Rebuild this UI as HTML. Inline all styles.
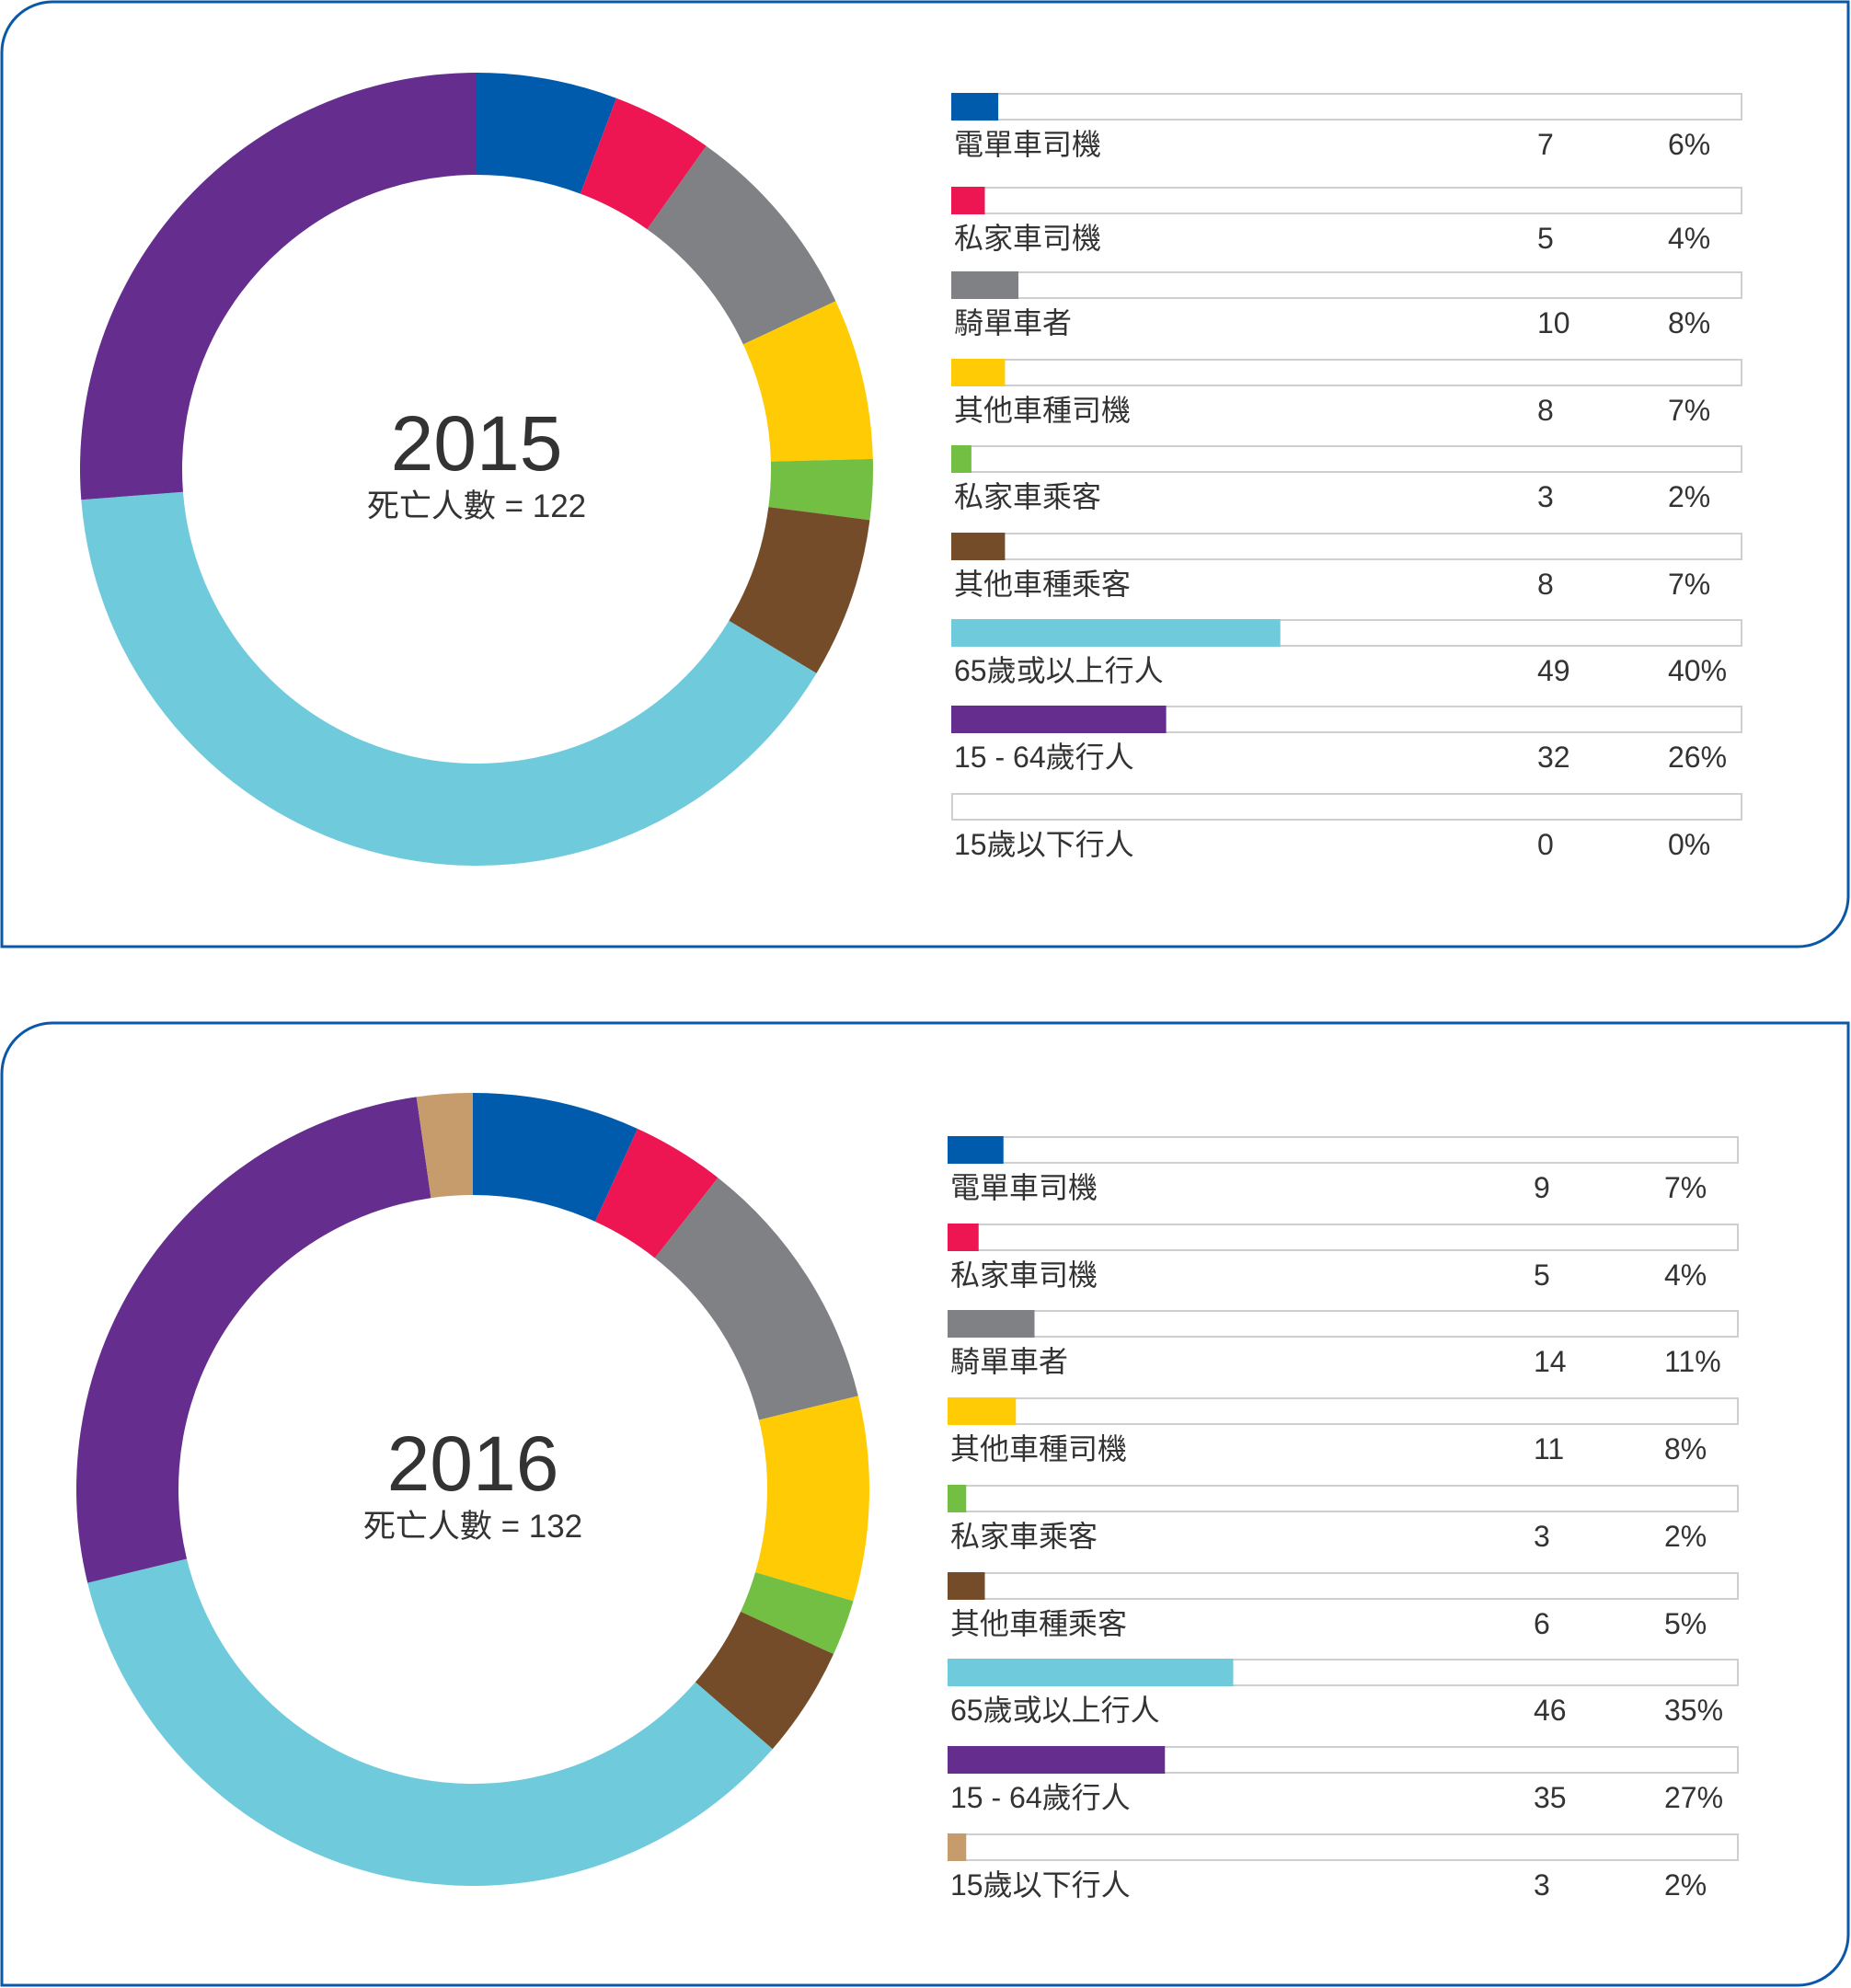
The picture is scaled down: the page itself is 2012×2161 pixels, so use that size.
<!DOCTYPE html>
<html><head><meta charset="utf-8">
<style>
html,body{margin:0;padding:0;background:#fff;}
svg{display:block;}
text{font-family:"Liberation Sans","Noto Sans CJK TC",sans-serif;fill:#333;}
</style></head>
<body>
<svg id="chart" width="2012" height="2161" viewBox="0 0 2012 2161" xmlns="http://www.w3.org/2000/svg">
  <path d="M57,2 H2009 V975 A55,55 0 0 1 1954,1029 H2 V57 A55,55 0 0 1 57,2 Z" fill="none" stroke="#0a58a8" stroke-width="3"/>
  <path d="M57,1112 H2009 V2104 A55,55 0 0 1 1954,2158 H2 V1167 A55,55 0 0 1 57,1112 Z" fill="none" stroke="#0a58a8" stroke-width="3"/>
  <g id="g2015"></g>
  <g id="g2016"></g>
</svg>
<script>
const categories = ["電單車司機","私家車司機","騎單車者","其他車種司機","私家車乘客","其他車種乘客","65歲或以上行人","15 - 64歲行人","15歲以下行人"];
const colors = ["#005bac","#ee1652","#808184","#ffcb05","#72bf44","#754c29","#6fcbdc","#652d8e","#c69c6d"];
const values2015 = [7,5,10,8,3,8,49,32,0];
const percents2015 = ["6%","4%","8%","7%","2%","7%","40%","26%","0%"];
const values2016 = [9,5,14,11,3,6,46,35,3];
const percents2016 = ["7%","4%","11%","8%","2%","5%","35%","27%","2%"];
const years = ["2015","2016"];
const totals = [122,132];

const NS="http://www.w3.org/2000/svg";
function mk(tag,attrs,parent){const e=document.createElementNS(NS,tag);for(const k in attrs)e.setAttribute(k,attrs[k]);parent.appendChild(e);return e;}

function draw(g,cfg,values,percents,year,total){
  const R=431,r=320,cx=cfg.cx,cy=cfg.cy;
  const sum=values.reduce((a,b)=>a+b,0);
  const ang=v=>v/sum*2*Math.PI;
  let a0=0;
  values.forEach((v,i)=>{
    if(v<=0)return;
    const a1=a0+ang(v);
    const p=(rad,a)=>[cx+rad*Math.sin(a),cy-rad*Math.cos(a)];
    const [x1,y1]=p(R,a0),[x2,y2]=p(R,a1),[x3,y3]=p(r,a1),[x4,y4]=p(r,a0);
    const large=(a1-a0)>Math.PI?1:0;
    const s=mk('path',{d:`M${x1},${y1} A${R},${R} 0 ${large} 1 ${x2},${y2} L${x3},${y3} A${r},${r} 0 ${large} 0 ${x4},${y4} Z`,fill:colors[i]},g);
    
    
    a0=a1;
  });
  const t=mk('text',{x:cx,y:cy+1,'text-anchor':'middle','font-size':84},g);t.textContent=year;
  
  
  const st=mk('text',{x:cx,y:cy+52,'text-anchor':'middle','font-size':35},g);st.textContent='死亡人數 = '+total;
  
  
  const tops=cfg.rows;
  categories.forEach((c,i)=>{
    const y=tops[i];
    const tr=mk('rect',{x:cfg.bx,y:y,width:cfg.bw,height:28,fill:'#fff',stroke:'#cfcfcf','stroke-width':2},g);
    
    
    if(values[i]>0){
      const b=mk('rect',{x:cfg.bx-1,y:y-1,width:values[i]*cfg.k,height:30,fill:colors[i]},g);
      
      
    }
    const l=mk('text',{x:cfg.bx+2,y:y+66,'font-size':32},g);l.textContent=c;
    
    
    const n=mk('text',{x:cfg.bx+636,y:y+66,'font-size':32},g);n.textContent=values[i];
    
    
    const pc=mk('text',{x:cfg.bx+778,y:y+66,'font-size':32},g);pc.textContent=percents[i];
    
    
  });
}
draw(document.getElementById('g2015'),{cx:518,cy:510,bx:1035,bw:858,k:7.3,rows:[102,204,296,391,485,580,674,768,863]},values2015,percents2015,years[0],totals[0]);
draw(document.getElementById('g2016'),{cx:514,cy:1619,bx:1031,bw:858,k:6.75,rows:[1236,1331,1425,1520,1615,1710,1804,1899,1994]},values2016,percents2016,years[1],totals[1]);
</script>
</body></html>
